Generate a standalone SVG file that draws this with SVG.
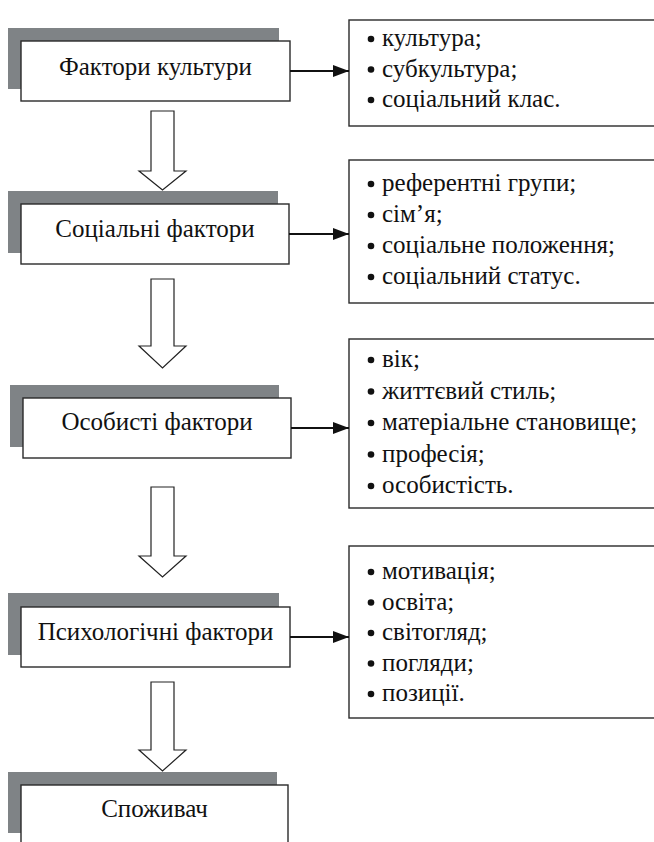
<svg xmlns="http://www.w3.org/2000/svg" width="654" height="842" viewBox="0 0 654 842">
<defs>
<style>
.sh{fill:#7f8386;}
.bx{fill:#fff;stroke:#2a2a2a;stroke-width:1.4;}
.lb{font-family:'Liberation Serif','DejaVu Serif',serif;font-size:25px;fill:#111;text-anchor:middle;}
.li{font-family:'Liberation Serif','DejaVu Serif',serif;font-size:25px;fill:#111;}
.bl{fill:#111;}
.dn{fill:#fff;stroke:#222;stroke-width:1.2;}
.cn{stroke:#111;stroke-width:2;fill:none;}
</style>
<marker id="ah" markerWidth="16" markerHeight="12" refX="16" refY="6" orient="auto" markerUnits="userSpaceOnUse">
<path d="M0,0 L16,6 L0,12 Z" fill="#111"/>
</marker>
</defs>
<rect x="0" y="0" width="654" height="842" fill="#fff"/>

<g id="node-culture">
<rect class="sh" x="8" y="28" width="271" height="61"/>
<rect class="bx" x="21" y="41" width="269" height="60"/>
<text class="lb" x="155.5" y="74.5">Фактори культури</text>
</g>
<g id="list-culture">
<rect class="bx" x="349" y="20" width="320" height="106"/>
<circle class="bl" cx="371" cy="39" r="3.3"/><text class="li" x="382" y="46">культура;</text>
<circle class="bl" cx="371" cy="69.5" r="3.3"/><text class="li" x="382" y="76.5">субкультура;</text>
<circle class="bl" cx="371" cy="100" r="3.3"/><text class="li" x="382" y="107">соціальний клас.</text>
</g>

<g id="node-social">
<rect class="sh" x="8" y="191" width="270" height="62"/>
<rect class="bx" x="21" y="204" width="268" height="60"/>
<text class="lb" x="155" y="237">Соціальні фактори</text>
</g>
<g id="list-social">
<rect class="bx" x="349" y="160" width="320" height="143"/>
<circle class="bl" cx="371" cy="184" r="3.3"/><text class="li" x="382" y="191">референтні групи;</text>
<circle class="bl" cx="371" cy="215" r="3.3"/><text class="li" x="382" y="222">сім’я;</text>
<circle class="bl" cx="371" cy="246" r="3.3"/><text class="li" x="382" y="253">соціальне положення;</text>
<circle class="bl" cx="371" cy="277" r="3.3"/><text class="li" x="382" y="284">соціальний статус.</text>
</g>

<g id="node-personal">
<rect class="sh" x="10" y="385" width="269" height="62"/>
<rect class="bx" x="23" y="398" width="268" height="60"/>
<text class="lb" x="157" y="430">Особисті фактори</text>
</g>
<g id="list-personal">
<rect class="bx" x="349" y="339" width="320" height="169"/>
<circle class="bl" cx="371" cy="360" r="3.3"/><text class="li" x="382" y="367">вік;</text>
<circle class="bl" cx="371" cy="391.5" r="3.3"/><text class="li" x="382" y="398.5">життєвий стиль;</text>
<circle class="bl" cx="371" cy="423" r="3.3"/><text class="li" x="382" y="430">матеріальне становище;</text>
<circle class="bl" cx="371" cy="454.5" r="3.3"/><text class="li" x="382" y="461.5">професія;</text>
<circle class="bl" cx="371" cy="486" r="3.3"/><text class="li" x="382" y="493">особистість.</text>
</g>

<g id="node-psych">
<rect class="sh" x="8" y="593" width="271" height="62"/>
<rect class="bx" x="21" y="607" width="269" height="60"/>
<text class="lb" x="155.5" y="640">Психологічні фактори</text>
</g>
<g id="list-psych">
<rect class="bx" x="349" y="546" width="320" height="172"/>
<circle class="bl" cx="371" cy="572" r="3.3"/><text class="li" x="382" y="579">мотивація;</text>
<circle class="bl" cx="371" cy="602.5" r="3.3"/><text class="li" x="382" y="609.5">освіта;</text>
<circle class="bl" cx="371" cy="633" r="3.3"/><text class="li" x="382" y="640">світогляд;</text>
<circle class="bl" cx="371" cy="663.5" r="3.3"/><text class="li" x="382" y="670.5">погляди;</text>
<circle class="bl" cx="371" cy="694" r="3.3"/><text class="li" x="382" y="701">позиції.</text>
</g>

<g id="node-consumer">
<rect class="sh" x="8" y="772" width="269" height="61"/>
<rect class="bx" x="21" y="785" width="267" height="70"/>
<text class="lb" x="154.5" y="817">Споживач</text>
</g>

<g id="connectors">
<line class="cn" x1="290" y1="71" x2="349" y2="71" marker-end="url(#ah)"/>
<line class="cn" x1="289" y1="234" x2="349" y2="234" marker-end="url(#ah)"/>
<line class="cn" x1="291" y1="428" x2="349" y2="428" marker-end="url(#ah)"/>
<line class="cn" x1="290" y1="637" x2="349" y2="637" marker-end="url(#ah)"/>
<path class="dn" d="M151,111 H174 V171 H186 L162.5,190 L139,171 H151 Z"/>
<path class="dn" d="M151,279 H174 V346 H186 L162.5,368 L139,346 H151 Z"/>
<path class="dn" d="M151,487 H174 V556 H186 L162.5,577 L139,556 H151 Z"/>
<path class="dn" d="M151,682 H174 V750 H186 L162.5,771 L139,750 H151 Z"/>
</g>
</svg>
